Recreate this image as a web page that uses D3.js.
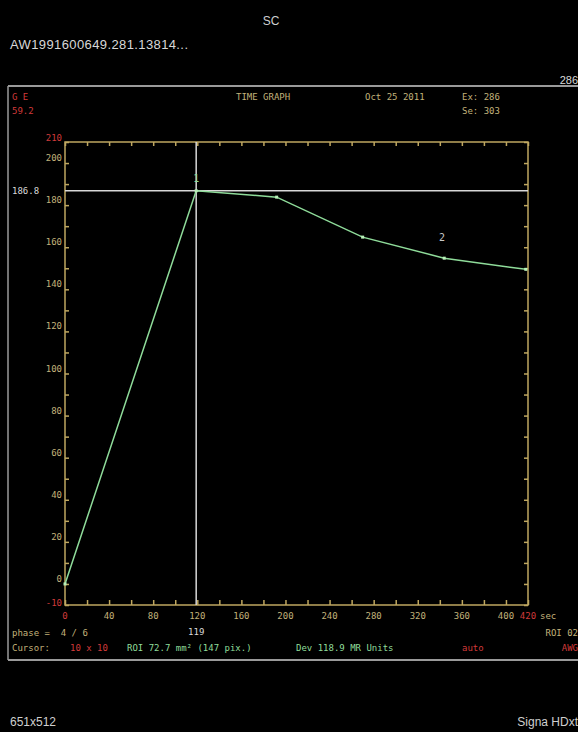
<!DOCTYPE html>
<html><head><meta charset="utf-8">
<script src="https://cdn.jsdelivr.net/npm/d3@7"></script>
<style>html,body{margin:0;padding:0;background:#000;}svg{display:block;}text{white-space:pre;}</style>
</head><body>
<script>
const times = [0, 119, 192, 270, 344, 418];
const values = [0, 186.8, 183.8, 164.8, 154.8, 149.5];
const curveLabels = [{t: 119, v: 191, label: "1"}, {t: 342, v: 163, label: "2"}];
const xTicks = [0, 40, 80, 120, 160, 200, 240, 280, 320, 360, 400];
const yTicks = [0, 20, 40, 60, 80, 100, 120, 140, 160, 180, 200];
const cursorT = 119, cursorV = 186.8;

const W = 578, H = 732;
const svg = d3.select("body").append("svg").attr("width", W).attr("height", H);
svg.append("rect").attr("width", W).attr("height", H).attr("fill", "#000");

const x = d3.scaleLinear().domain([0, 420]).range([65, 528]);
const y = d3.scaleLinear().domain([-10, 210]).range([605, 142]);

const AX = "#bfa760", LAB = "#c2b27a", RED = "#d03a3a", GRN = "#8fdc9a", WH = "#d8d8d8";
const mono = "'DejaVu Sans Mono', monospace";

// outer frame
svg.append("line").attr("x1", 8).attr("x2", W).attr("y1", 86).attr("y2", 86).attr("stroke", "#9a9a9a").attr("stroke-width", 2);
svg.append("line").attr("x1", 8).attr("x2", W).attr("y1", 660).attr("y2", 660).attr("stroke", "#9a9a9a").attr("stroke-width", 2);
svg.append("line").attr("x1", 8).attr("x2", 8).attr("y1", 86).attr("y2", 660).attr("stroke", "#9a9a9a").attr("stroke-width", 1.5);

function txt(s, xx, yy, col, size, anchor, fam) {
  return svg.append("text").attr("x", xx).attr("y", yy).attr("fill", col).attr("xml:space", "preserve")
    .attr("font-size", size).attr("font-family", fam || mono).attr("text-anchor", anchor || "start").text(s);
}
// header
txt("SC", 271, 25, "#cfcfcf", 12, "middle", "'Liberation Sans', sans-serif");
txt("AW1991600649.281.13814...", 10, 49, "#d8d8d8", 13, "start", "'Liberation Sans', sans-serif").attr("textLength", 178);
txt("286", 578, 84, "#d8d8d8", 11, "end", "'Liberation Sans', sans-serif");
txt("G E", 12, 100, RED, 9);
txt("59.2", 12, 114, RED, 9);
txt("TIME GRAPH", 236, 100, LAB, 9);
txt("Oct 25 2011", 365, 100, LAB, 9);
txt("Ex: 286", 462, 100, LAB, 9);
txt("Se: 303", 462, 114, LAB, 9);

// axes frame
const g = svg.append("g");
g.append("rect").attr("x", x(0)).attr("y", y(210)).attr("width", x(420) - x(0)).attr("height", y(-10) - y(210))
  .attr("fill", "none").attr("stroke", AX).attr("stroke-width", 1.5);

// y axis left
const yAxis = d3.axisLeft(y).tickValues(d3.range(-10, 211, 10)).tickSize(-4).tickFormat("");
const ya = g.append("g").attr("transform", `translate(${x(0)},0)`).call(yAxis);
ya.select(".domain").remove();
ya.selectAll("line").attr("stroke", AX).attr("stroke-width", 1.5);
// y axis right
const yAxisR = d3.axisRight(y).tickValues(d3.range(-10, 211, 10)).tickSize(-4).tickFormat("");
const yr = g.append("g").attr("transform", `translate(${x(420)},0)`).call(yAxisR);
yr.select(".domain").remove();
yr.selectAll("line").attr("stroke", AX).attr("stroke-width", 1.5);
// x axes
const xAxisB = d3.axisBottom(x).tickValues(d3.range(0, 421, 20)).tickSize(-5).tickFormat("");
const xb = g.append("g").attr("transform", `translate(0,${y(-10)})`).call(xAxisB);
xb.select(".domain").remove();
xb.selectAll("line").attr("stroke", AX).attr("stroke-width", 1.5);
const xAxisT = d3.axisTop(x).tickValues(d3.range(0, 421, 20)).tickSize(-4).tickFormat("");
const xt = g.append("g").attr("transform", `translate(0,${y(210)})`).call(xAxisT);
xt.select(".domain").remove();
xt.selectAll("line").attr("stroke", AX).attr("stroke-width", 1.5);

// y labels
g.selectAll(".yl").data(yTicks).join("text").attr("x", x(0) - 3).attr("y", d => y(d) - 2)
  .attr("text-anchor", "end").attr("fill", LAB).attr("font-size", 9).attr("font-family", mono).text(d => d);
txt("210", x(0) - 3, y(210) - 1, RED, 9, "end");
txt("-10", x(0) - 3, y(-10) + 1, RED, 9, "end");
// x labels
g.selectAll(".xl").data(xTicks).join("text").attr("x", d => x(d)).attr("y", y(-10) + 14)
  .attr("text-anchor", "middle").attr("fill", d => d === 0 ? RED : LAB).attr("font-size", 9).attr("font-family", mono).text(d => d);
txt("420", x(420), y(-10) + 14, RED, 9, "middle");
txt("sec", x(420) + 12, y(-10) + 14, LAB, 9, "start");

// cursor lines
g.append("line").attr("x1", x(cursorT)).attr("x2", x(cursorT)).attr("y1", y(210)).attr("y2", y(-10)).attr("stroke", WH).attr("stroke-width", 1.5);
g.append("line").attr("x1", x(0)).attr("x2", x(420)).attr("y1", y(cursorV)).attr("y2", y(cursorV)).attr("stroke", WH).attr("stroke-width", 1.5);
txt(cursorV.toFixed(1), 12, y(cursorV) + 3, WH, 9, "start");
txt(String(cursorT), x(cursorT), 635, WH, 9, "middle");

// data line
const pts = times.map((t, i) => [t, values[i]]);
g.append("path").datum(pts).attr("fill", "none").attr("stroke", GRN).attr("stroke-width", 1.5)
  .attr("d", d3.line().x(d => x(d[0])).y(d => y(d[1])));
g.selectAll(".pt").data(pts).join("rect").attr("x", d => x(d[0]) - 1.5).attr("y", d => y(d[1]) - 1.5)
  .attr("width", 3).attr("height", 3).attr("fill", "#b8f0b8");
g.selectAll(".cl").data(curveLabels).join("text").attr("x", d => x(d.t)).attr("y", d => y(d.v))
  .attr("text-anchor", "middle").attr("fill", d => d.label === "1" ? GRN : "#c8c8c8").attr("font-size", 10).attr("font-family", mono).text(d => d.label);

// footer in box
txt("phase =  4 / 6", 12, 636, LAB, 9);
txt("ROI 02", 578, 636, LAB, 9, "end");
txt("Cursor:", 12, 651, LAB, 9);
txt("10 x 10", 70, 651, RED, 9);
txt("ROI 72.7 mm\u00b2 (147 pix.)", 127, 651, GRN, 9);
txt("Dev 118.9 MR Units", 296, 651, GRN, 9);
txt("auto", 462, 651, RED, 9);
txt("AWG", 578, 651, RED, 9, "end");

// bottom
txt("651x512", 10, 726, "#cfcfcf", 12, "start", "'Liberation Sans', sans-serif");
txt("Signa HDxt", 578, 726, "#cfcfcf", 12, "end", "'Liberation Sans', sans-serif");
</script>
</body></html>
